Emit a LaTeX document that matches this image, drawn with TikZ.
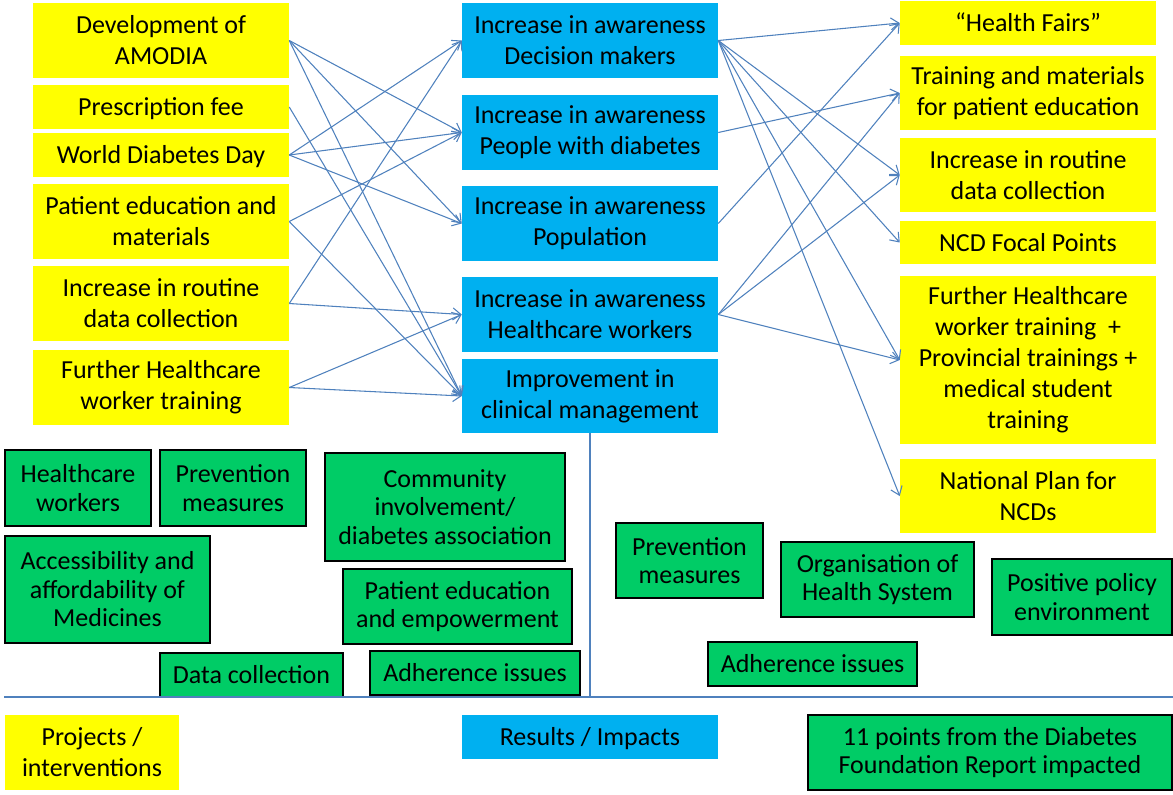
\documentclass[tikz,border=0pt]{standalone}
\usepackage{fontspec}
\setmainfont{Carlito}
\usetikzlibrary{arrows.meta}

\definecolor{amyellow}{HTML}{FFFF00}
\definecolor{amblue}{HTML}{00B0F0}
\definecolor{amgreen}{HTML}{00CC66}
\definecolor{amline}{HTML}{4F81BD}

\tikzset{
    sz/.style 2 args={minimum width=#1*0.75pt, minimum height=#2*0.75pt},
    box/.style={inner sep=0pt, align=center, font=\fontsize{19.5}{23.25}\selectfont},
    oneline/.style={text height=18.5pt, text depth=5.3pt},
    project/.style={box, fill=amyellow},
    result/.style={box, fill=amblue},
    impact/.style={box, fill=amgreen, draw=black, line width=1pt, font=\fontsize{19.5}{21.4}\selectfont},
    link/.style={draw=amline, line width=0.8pt, -{Straight Barb[length=6pt,width=9pt]}},
    divider/.style={draw=amline, line width=1.3pt}
}

\begin{document}
\begin{tikzpicture}[x=0.75pt, y=-0.75pt]
    \useasboundingbox (0,0) rectangle (1173,794);

    % projects / interventions
    \node[project, sz={256}{75}] (dev) at (161,40.5) {Development of\\AMODIA};
    \node[project, oneline, sz={256}{44}] (fee) at (161,107) {Prescription fee};
    \node[project, oneline, sz={256}{44}] (wdd) at (161,155) {World Diabetes Day};
    \node[project, sz={256}{75}] (edu) at (161,221.5) {Patient education and\\materials};
    \node[project, sz={256}{75}] (data) at (161,303.5) {Increase in routine\\data collection};
    \node[project, sz={256}{75}] (train) at (161,387.5) {Further Healthcare\\worker training};

    % results / impacts
    \node[result, sz={256}{75}] (dm) at (590,40.5) {Increase in awareness\\Decision makers};
    \node[result, sz={256}{75}] (pwd) at (590,132.5) {Increase in awareness\\People with diabetes};
    \node[result, sz={256}{75}] (pop) at (590,223.5) {Increase in awareness\\Population};
    \node[result, sz={256}{75}] (hcw) at (590,314.5) {Increase in awareness\\Healthcare workers};
    \node[result, sz={256}{74}] (clin) at (590,396) {Improvement in\\clinical management};

    % follow-up projects
    \node[project, oneline, sz={256}{44}] (fairs) at (1028,23) {“Health Fairs”};
    \node[project, sz={256}{74}] (mat) at (1028,93) {Training and materials\\for patient education};
    \node[project, sz={256}{74}] (data2) at (1028,175) {Increase in routine\\data collection};
    \node[project, oneline, sz={256}{43}] (ncd) at (1028,242.5) {NCD Focal Points};
    \node[project, sz={256}{168}] (train2) at (1028,360) {Further Healthcare\\worker training\ \ +\\Provincial trainings +\\medical student\\training};
    \node[project, sz={256}{74}] (plan) at (1028,496) {National Plan for\\NCDs};

    % report points
    \node[impact, sz={146}{76}] (hw) at (78,488) {Healthcare\\workers};
    \node[impact, sz={146}{76}] (prev) at (233,488) {Prevention\\measures};
    \node[impact, sz={240}{108}] (comm) at (445,507) {Community\\involvement/\\diabetes association};
    \node[impact, sz={205}{107}] (acc) at (107.5,589.5) {Accessibility and\\affordability of\\Medicines};
    \node[impact, sz={229}{75}] (emp) at (457.5,606.5) {Patient education\\and empowerment};
    \node[impact, oneline, sz={183}{44}] (dcol) at (251.5,675) {Data collection};
    \node[impact, oneline, sz={210}{44}] (adh) at (475,673) {Adherence issues};
    \node[impact, sz={147}{75}] (prev2) at (689.5,560.5) {Prevention\\measures};
    \node[impact, sz={193}{75}] (org) at (877.5,579.5) {Organisation of\\Health System};
    \node[impact, sz={180}{76}] (pol) at (1082,597) {Positive policy\\environment};
    \node[impact, oneline, sz={209}{44}] (adh2) at (812.5,664) {Adherence issues};

    % legend
    \node[project, sz={174}{75}] (lproj) at (92,752.5) {Projects /\\interventions};
    \node[result, oneline, sz={256}{44}] (lres) at (590,737) {Results / Impacts};
    \node[impact, sz={364}{75}] (lpts) at (990,752.5) {11 points from the Diabetes\\Foundation Report impacted};

    \coordinate (hl) at (4,697);
    \coordinate (hr) at (1173,697);
    \draw[divider] (hl) -- (hr);
    \draw[divider] (clin.south) -- (clin.south |- hl);

    \draw[link] (dev.east) -- (pwd.west);
    \draw[link] (dev.east) -- (pop.west);
    \draw[link] (dev.east) -- (clin.west);
    \draw[link] (fee.east) -- (clin.west);
    \draw[link] (wdd.east) -- (dm.west);
    \draw[link] (wdd.east) -- (pwd.west);
    \draw[link] (wdd.east) -- (pop.west);
    \draw[link] (edu.east) -- (pwd.west);
    \draw[link] (edu.east) -- (clin.west);
    \draw[link] (data.east) -- (dm.west);
    \draw[link] (data.east) -- (hcw.west);
    \draw[link] (train.east) -- (hcw.west);
    \draw[link] (train.east) -- (clin.west);

    \draw[link] (dm.east) -- (fairs.west);
    \draw[link] (dm.east) -- (data2.west);
    \draw[link] (dm.east) -- (ncd.west);
    \draw[link] (dm.east) -- (train2.west);
    \draw[link] (dm.east) -- (plan.west);
    \draw[link] (pwd.east) -- (mat.west);
    \draw[link] (pop.east) -- (fairs.west);
    \draw[link] (hcw.east) -- (mat.west);
    \draw[link] (hcw.east) -- (data2.west);
    \draw[link] (hcw.east) -- (train2.west);
\end{tikzpicture}
\end{document}
